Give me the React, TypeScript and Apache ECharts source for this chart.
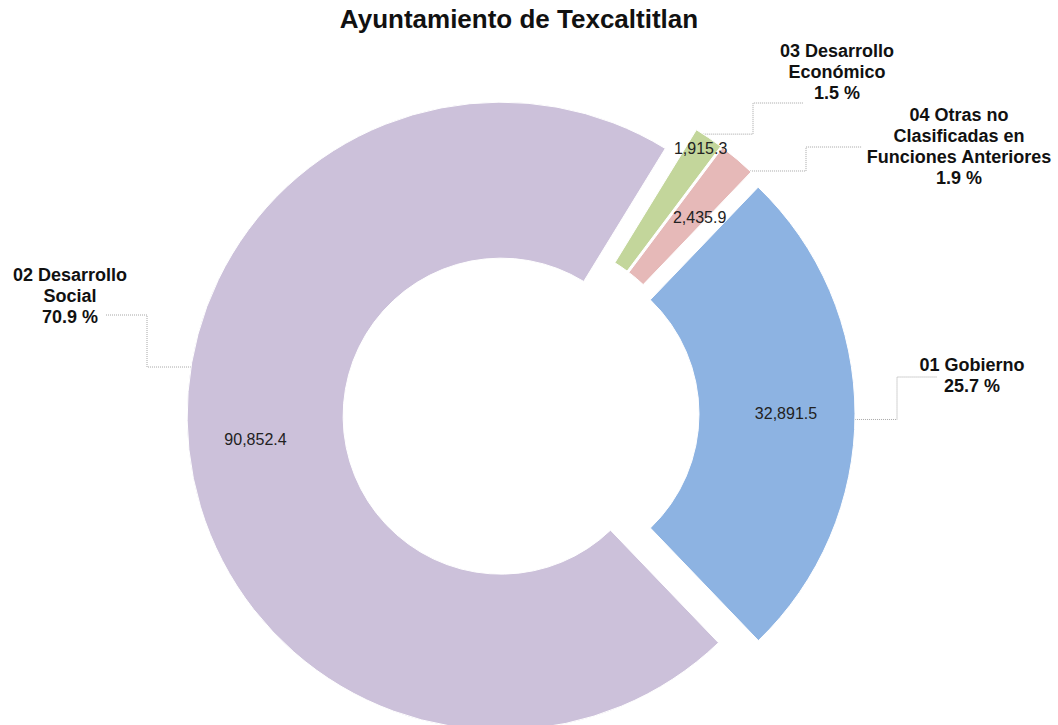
import React, { useEffect, useRef } from 'react';
import * as echarts from 'echarts';

// ---------- data ----------
const TITLE = 'Ayuntamiento de Texcaltitlan';
const CATEGORIES = [
  '01 Gobierno',
  '02 Desarrollo Social',
  '03 Desarrollo Económico',
  '04 Otras no Clasificadas en Funciones Anteriores',
];
const LABEL_TEXT = [
  '01 Gobierno',
  '02 Desarrollo\nSocial',
  '03 Desarrollo\nEconómico',
  '04 Otras no\nClasificadas en\nFunciones Anteriores',
];
const VALUES = [32891.5, 90852.4, 1915.3, 2435.9];

// ---------- style / layout ----------
const COLORS = ['#8DB3E2', '#CCC1DA', '#C3D69B', '#E6B9B8'];
const W = 1058;
const H = 725;
const CX = 521;
const CY = 414;
const R_OUT = 314;
const R_IN = 158;
const EXPLODE = 20;
const START_ANGLE = 46.25; // echarts degrees (ccw from 3 o'clock)
const FONT = '"Liberation Sans", Arial, Helvetica, sans-serif';

// outer label placement (label centre) and elbow leader geometry
const OUTER_LABELS = [
  { x: 972, y: 375, anchor: 91, elbowX: 897, endY: 377, endX: 937 },
  { x: 70, y: 296, anchor: 279, elbowX: 147, endY: 315, endX: 106 },
  { x: 837, y: 72, anchor: 33, elbowX: 753, endY: 103, endX: 803 },
  { x: 959, y: 146, anchor: 43.5, elbowX: 806, endY: 147, endX: 862 },
];
const INNER_SHIFT = [
  [6, 0],
  [-8, -2],
  [34, -51],
  [11, 1],
];

const TOTAL = VALUES.reduce((a, b) => a + b, 0);
const START_THETA = 90 - START_ANGLE; // clockwise from 12 o'clock

function sliceMid(i: number): number {
  let cum = 0;
  for (let j = 0; j < i; j++) cum += VALUES[j];
  const s = START_THETA + (cum / TOTAL) * 360;
  const e = s + (VALUES[i] / TOTAL) * 360;
  return (s + e) / 2;
}

function arcPoint(i: number, thetaDeg: number): number[] {
  const mid = (sliceMid(i) * Math.PI) / 180;
  const t = (thetaDeg * Math.PI) / 180;
  const ox = EXPLODE * Math.sin(mid);
  const oy = -EXPLODE * Math.cos(mid);
  return [CX + ox + R_OUT * Math.sin(t), CY + oy - R_OUT * Math.cos(t)];
}

function fmt(v: number): string {
  return v.toLocaleString('en-US', { minimumFractionDigits: 1, maximumFractionDigits: 1 });
}

export default function App() {
  const ref = useRef<HTMLDivElement>(null);

  useEffect(() => {
    document.body.style.margin = '0';
    const chart = echarts.init(ref.current as HTMLDivElement, null, { renderer: 'svg' });

    const option: any = {
      animation: false,
      backgroundColor: '#ffffff',
      title: {
        text: TITLE,
        left: 514,
        top: 1,
        textAlign: 'center',
        textStyle: {
          fontFamily: FONT,
          fontSize: 26,
          fontWeight: 'bold',
          color: '#111111',
        },
      },
      series: [
        {
          type: 'pie',
          name: 'valores',
          center: [CX, CY],
          radius: [R_IN, R_OUT],
          startAngle: START_ANGLE,
          clockwise: true,
          selectedMode: 'multiple',
          selectedOffset: EXPLODE,
          avoidLabelOverlap: false,
          emphasis: { disabled: true },
          itemStyle: { borderColor: '#ffffff', borderWidth: 1 },
          label: {
            show: true,
            position: 'inside',
            fontFamily: FONT,
            fontSize: 16,
            color: '#222222',
            formatter: (p: any) => fmt(p.value),
          },
          labelLine: { show: false },
          labelLayout: (p: any) => {
            const s = INNER_SHIFT[p.dataIndex];
            return { dx: s[0], dy: s[1] };
          },
          data: VALUES.map((v, i) => ({
            name: CATEGORIES[i],
            value: v,
            selected: true,
            itemStyle: { color: COLORS[i] },
          })),
        },
        {
          type: 'pie',
          name: 'porcentajes',
          center: [CX, CY],
          radius: [R_IN, R_OUT],
          startAngle: START_ANGLE,
          clockwise: true,
          silent: true,
          avoidLabelOverlap: false,
          itemStyle: { color: 'rgba(0,0,0,0)', borderWidth: 0 },
          label: {
            show: true,
            position: 'outside',
            fontFamily: FONT,
            fontSize: 18,
            fontWeight: 'bold',
            lineHeight: 21,
            align: 'center',
            color: '#111111',
            formatter: (p: any) => `${LABEL_TEXT[p.dataIndex]}\n${p.percent.toFixed(1)} %`,
          },
          labelLine: {
            show: true,
            smooth: false,
            lineStyle: { color: '#a6a6a6', width: 1, type: 'dotted' },
          },
          labelLayout: (p: any) => {
            const i = p.dataIndex;
            const L = OUTER_LABELS[i];
            const a = arcPoint(i, L.anchor);
            return {
              x: L.x,
              y: L.y,
              align: 'center',
              verticalAlign: 'middle',
              labelLinePoints: [a, [L.elbowX, a[1]], [L.elbowX, L.endY], [L.endX, L.endY]],
            };
          },
          data: VALUES.map((v, i) => ({ name: CATEGORIES[i], value: v })),
        },
      ],
    };

    chart.setOption(option);
    return () => chart.dispose();
  }, []);

  return <div ref={ref} style={{ width: W, height: H }} />;
}
